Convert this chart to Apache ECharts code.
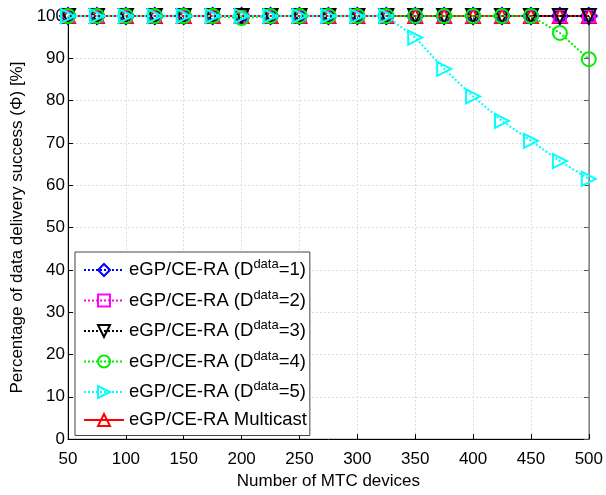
<!DOCTYPE html>
<html><head><meta charset="utf-8">
<script src="https://cdn.jsdelivr.net/npm/echarts@6/dist/echarts.min.js"></script>
<style>html,body{margin:0;padding:0;background:#fff}#c{width:606px;height:495px}</style>
</head><body><div id="c"></div>
<script>
const xValues = [50,75,100,125,150,175,200,225,250,275,300,325,350,375,400,425,450,475,500];
const d1 = [100,100,100,100,100,100,100,100,100,100,100,100,100,100,100,100,100,100,100];
const d2 = [100,100,100,100,100,100,100,100,100,100,100,100,100,100,100,100,100,100,100];
const d3 = [100,100,100,100,100,100,100,100,100,100,100,100,100,100,100,100,100,100,100];
const d4 = [100,100,100,100,100,100,99.5,100,100,100,100,100,100,100,100,100,100,96,89.8];
const d5 = [100,100,100,100,100,100,100,100,100,100,100,100,94.9,87.5,81,75.2,70.5,65.7,61.5];
const multicast = [100,100,100,100,100,100,100,100,100,100,100,100,100,100,100,100,100,100,100];
const seriesNames = ['eGP/CE-RA (D^data=1)','eGP/CE-RA (D^data=2)','eGP/CE-RA (D^data=3)','eGP/CE-RA (D^data=4)','eGP/CE-RA (D^data=5)','eGP/CE-RA Multicast'];
const xTitle = 'Number of MTC devices';
const yTitle = 'Percentage of data delivery success (\u03a6) [%]';

const font = 'Liberation Sans, Arial, sans-serif';
function pair(arr){ return xValues.map((x,i)=>[x,arr[i]]); }
function mk(name, data, color, symbol, rot, dotted, z, size){
  return {
    name, type:'line', data: pair(data), z,
    symbol, symbolSize: size, symbolRotate: rot,
    lineStyle:{color, width: 2, type: dotted?[2,2]:'solid'},
    itemStyle:{color:'rgba(255,255,255,0)', borderColor:color, borderWidth:2},
    emphasis:{disabled:true}, animation:false
  };
}
const chart = echarts.init(document.getElementById('c'), null, {renderer:'canvas'});
chart.setOption({
  animation:false,
  grid:{left:68, right:14, top:16, bottom:50, show:true, borderColor:'#888', borderWidth:1},
  xAxis:[{
    type:'value', min:50, max:500, interval:50,
    name:xTitle, nameLocation:'middle', nameGap:31,
    nameTextStyle:{fontFamily:font, fontSize:17, color:'#000'},
    axisLine:{show:true, onZero:false, lineStyle:{color:'#000', width:1}},
    axisTick:{show:true, inside:true, length:5, lineStyle:{color:'#000'}},
    axisLabel:{fontFamily:font, fontSize:17, color:'#000', margin:12},
    splitLine:{show:true, lineStyle:{color:'#ddd', type:[2,2]}}
  },{
    type:'value', position:'top', min:50, max:500, interval:50,
    axisLine:{show:true, onZero:false, lineStyle:{color:'#888'}},
    axisTick:{show:true, inside:true, length:5, lineStyle:{color:'#555'}},
    axisLabel:{show:false}, splitLine:{show:false}
  }],
  yAxis:[{
    type:'value', min:0, max:100, interval:10,
    name:yTitle, nameLocation:'middle', nameGap:41,
    nameTextStyle:{fontFamily:font, fontSize:17, color:'#000'},
    axisLine:{show:true, onZero:false, lineStyle:{color:'#000', width:1}},
    axisTick:{show:true, inside:true, length:5, lineStyle:{color:'#000'}},
    axisLabel:{fontFamily:font, fontSize:17, color:'#000', margin:3},
    splitLine:{show:true, lineStyle:{color:'#ddd', type:[2,2]}}
  },{
    type:'value', position:'right', min:0, max:100, interval:10,
    axisLine:{show:true, onZero:false, lineStyle:{color:'#888'}},
    axisTick:{show:true, inside:true, length:5, lineStyle:{color:'#555'}},
    axisLabel:{show:false}, splitLine:{show:false}
  }],
  legend:{
    orient:'vertical', left:75, top:252,
    backgroundColor:'#fff', borderColor:'#444', borderWidth:1,
    padding:[6,3,6,8], itemGap:9, itemWidth:40, itemHeight:15,
    data: seriesNames,
    formatter: function(n){
      const m = n.match(/^(.*)\(D\^data=(\d)\)$/);
      if(!m) return '{n|'+n+'}';
      return '{n|'+m[1]+'(D}{s|data}{n|='+m[2]+')}';
    },
    textStyle:{
      fontFamily:font, fontSize:18.5, color:'#000',
      rich:{
        n:{fontFamily:font, fontSize:18.5, color:'#000', lineHeight:24, verticalAlign:'middle'},
        s:{fontFamily:font, fontSize:13, color:'#000', lineHeight:12, verticalAlign:'top'}
      }
    }
  },
  series:[
    mk(seriesNames[5], multicast, '#ff0000', 'triangle', 0, false, 1, 14),
    mk(seriesNames[0], d1, '#0000ff', 'diamond', 0, true, 2, 16),
    mk(seriesNames[1], d2, '#ff00ff', 'rect', 0, true, 3, 12),
    mk(seriesNames[2], d3, '#000000', 'triangle', 180, true, 4, 14),
    mk(seriesNames[3], d4, '#00ee00', 'circle', 0, true, 5, 14),
    mk(seriesNames[4], d5, '#00ffff', 'triangle', -90, true, 6, 14)
  ]
});
</script></body></html>
